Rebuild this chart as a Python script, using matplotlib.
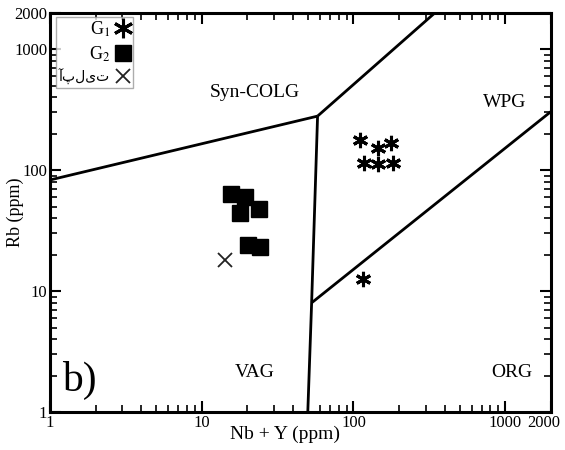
import matplotlib
matplotlib.use("Agg")
import matplotlib.pyplot as plt
import matplotlib.transforms as mtransforms

plt.rcParams['font.family'] = ['Liberation Serif', 'DejaVu Sans']
plt.rcParams['mathtext.fontset'] = 'stix'

# G1 samples (asterisks)
g1_x = [110, 145, 178, 117, 145, 183, 116]
g1_y = [178, 153, 167, 114, 112, 115, 12.5]
# G2 samples (squares)
g2_x = [15.7, 19.3, 18.0, 23.8, 20.1, 24.2]
g2_y = [64, 60, 44, 48, 24, 23]
# aplite
apl_x = [14.2]
apl_y = [18.1]

# field boundaries (Pearce et al. 1984)
b1_x = [1, 58]
b1_y = [83, 280]
b2_x = [58, 344]
b2_y = [280, 2000]
b3_x = [58, 53, 50]
b3_y = [280, 8.0, 1]
b4_x = [53, 2000]
b4_y = [8.0, 305]

fields = ["Syn-COLG", "WPG", "VAG", "ORG"]
field_x = [22.4, 994, 22.4, 1105]
field_y = [443, 360, 2.14, 2.14]

labels = ["G$_1$", "G$_2$", "آپلیت"]

fig = plt.figure(figsize=(5.65, 4.5), dpi=100)
ax = fig.add_axes([0.0885, 0.0844, 0.8865, 0.887])
ax.set_xscale('log')
ax.set_yscale('log')
ax.set_xlim(1, 2000)
ax.set_ylim(1, 2000)

for bx, by in [(b1_x, b1_y), (b2_x, b2_y), (b3_x, b3_y), (b4_x, b4_y)]:
    ax.plot(bx, by, color='black', lw=2.0, solid_capstyle='butt')

h1, = ax.plot(g1_x, g1_y, ls='none', marker=(6, 2, 0), ms=11, mew=2.2, color='black')
h2, = ax.plot(g2_x, g2_y, ls='none', marker='s', ms=12, color='black')
h3, = ax.plot(apl_x, apl_y, ls='none', marker='x', ms=10, mew=1.3, color='#222222')

for name, fx, fy in zip(fields, field_x, field_y):
    ax.text(fx, fy, name, fontsize=14, ha='center', va='center')

ax.text(0.024, 0.03, "b)", transform=ax.transAxes, fontsize=30, ha='left', va='bottom')

leg = ax.legend([h1, h2, h3], labels, loc='upper left', bbox_to_anchor=(0.012, 0.99),
                markerfirst=False, frameon=True, fancybox=False, fontsize=13,
                handlelength=0.9, handletextpad=0.25, borderpad=0.15,
                labelspacing=0.3, borderaxespad=0.0)
leg.get_frame().set_edgecolor('#999999')
leg.get_frame().set_linewidth(1.0)
for t in leg.get_texts():
    t.set_family(['Liberation Serif', 'DejaVu Sans'])
leg.get_texts()[2].set_fontsize(10)
leg.legend_handles[0].set_markersize(14)

ticks = [1, 10, 100, 1000, 2000]
ax.set_xticks(ticks)
ax.set_xticklabels([str(t) for t in ticks])
ax.set_yticks(ticks)
ax.set_yticklabels([str(t) for t in ticks])
ax.tick_params(which='both', direction='in', top=True, right=True, labelsize=12, pad=2)
ax.tick_params(which='major', length=8, width=1.5)
ax.tick_params(which='minor', length=5, width=1.2)
for s in ax.spines.values():
    s.set_linewidth(2.2)

# nudge the last x label inside the figure
lab = ax.get_xticklabels()[-1]
lab.set_transform(lab.get_transform() +
                  mtransforms.ScaledTranslation(-7 / 100, 0, fig.dpi_scale_trans))

ax.set_xlabel("Nb + Y (ppm)", fontsize=14)
ax.xaxis.set_label_coords(0.47, -0.035)
ax.set_ylabel("Rb (ppm)", fontsize=13)
ax.yaxis.set_label_coords(-0.052, 0.5)

fig.savefig("out.png", dpi=100)
